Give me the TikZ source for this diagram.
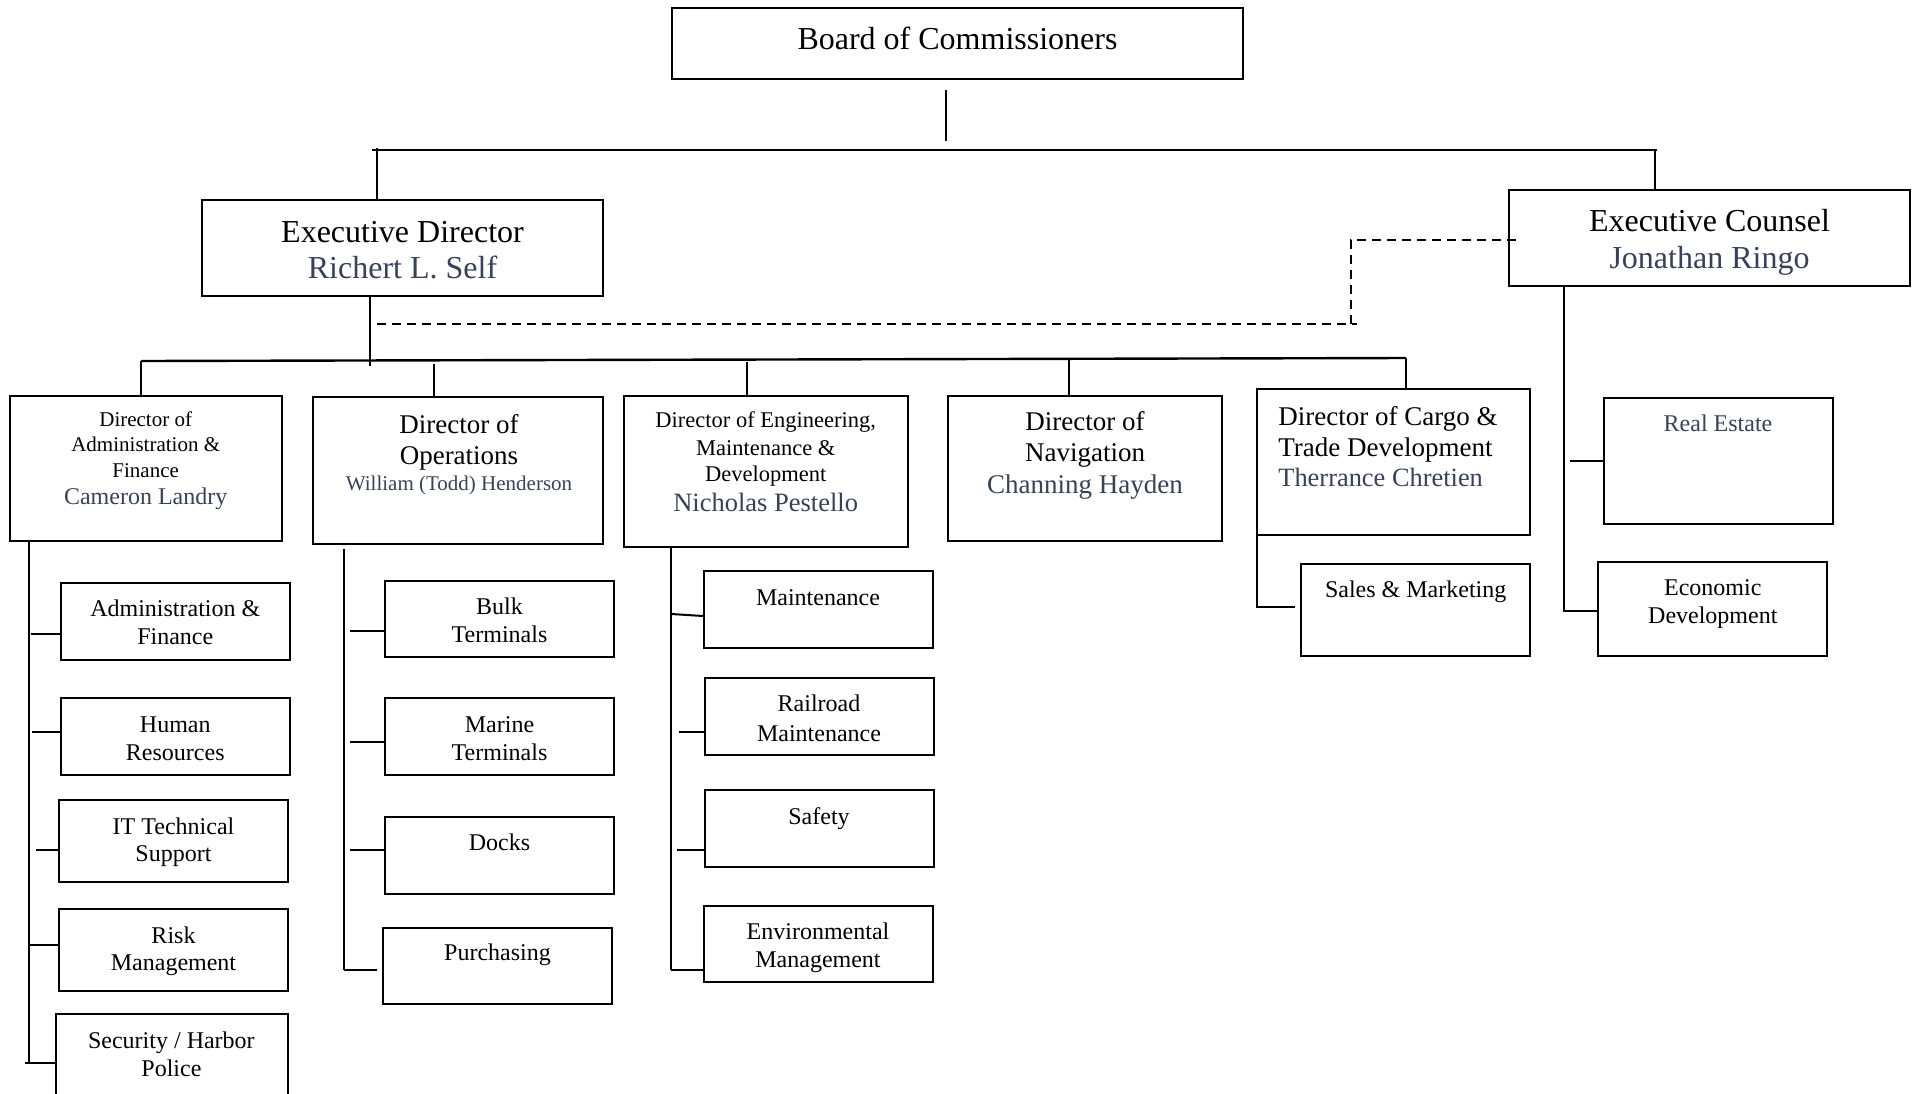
\documentclass[tikz,border=0pt]{standalone}
\usepackage{fontspec}
\usetikzlibrary{calc}
\setmainfont{Liberation Serif}
\definecolor{namec}{RGB}{55,65,88}
\newcommand\fsz[1]{\fontsize{#1}{#1}\selectfont}
\newcommand\bx[5]{\node[boxs, minimum width={(#4-#2)*0.5pt}, minimum height={(#5-#3)*0.5pt}] (#1) at ({(#2+#4)/2},{(#3+#5)/2}) {};}
\begin{document}
\begin{tikzpicture}[x=0.5pt,y=-0.5pt,
  boxs/.style={draw, line width=1pt, inner sep=0pt, rectangle},
  txt/.style={inner sep=0pt, anchor=base},
  nm/.style={txt, text=namec},
  ln/.style={line width=1pt},
  dsh/.style={line width=1pt, dash pattern=on 4.5pt off 3pt}]
\useasboundingbox (0,0) rectangle (1917,1093);
% ---------- boxes
\bx{board}{672}{8}{1243}{79}
\bx{ed}{202}{200}{603}{296}
\bx{ec}{1509}{190}{1910}{286}
\bx{dadm}{9.5}{396}{282}{541}
\bx{dops}{313}{397}{603}{544}
\bx{deng}{623.5}{396}{908}{547}
\bx{dnav}{948}{395.5}{1221.5}{541}
\bx{dcargo}{1256.5}{389}{1529.5}{535}
\bx{a1}{60.5}{583}{290}{659.5}
\bx{a2}{60.5}{698}{290}{774.5}
\bx{a3}{59}{800}{288}{882}
\bx{a4}{59}{908.5}{288}{991}
\bx{a5}{55.5}{1014}{288}{1112}
\bx{o1}{385}{580.5}{614}{657}
\bx{o2}{385}{698}{614}{775}
\bx{o3}{385}{817}{614}{894}
\bx{o4}{383}{928}{612}{1004}
\bx{e1}{704}{571}{933}{648}
\bx{e2}{705}{678}{934}{755}
\bx{e3}{705}{790}{934}{867}
\bx{e4}{704}{906}{933}{982}
\bx{sm}{1301}{564}{1530}{656}
\bx{re}{1604}{398}{1833}{524}
\bx{edv}{1598}{562}{1827}{656}
% ---------- texts
\node[txt, font=\fsz{16}] (board-t) at (957.5,49.5) {Board of Commissioners};
\node[txt, font=\fsz{16}] (ed-t1) at (402.5,242.3) {Executive Director};
\node[nm, font=\fsz{16}] (ed-t2) at (402.5,278.6) {Richert L. Self};
\node[txt, font=\fsz{16}] (ec-t1) at (1709.5,231.5) {Executive Counsel};
\node[nm, font=\fsz{16}] (ec-t2) at (1709.5,268.5) {Jonathan Ringo};
% director admin
\node[txt, font=\fsz{10.5}] (dadm-t1) at (145.7,426.8) {Director of};
\node[txt, font=\fsz{10.5}] (dadm-t2) at (145.7,451.4) {Administration \&};
\node[txt, font=\fsz{10.5}] (dadm-t3) at (145.7,477.3) {Finance};
\node[nm, font=\fsz{12}] (dadm-t4) at (145.7,504) {Cameron Landry};
% director operations
\node[txt, font=\fsz{13.5}] (dops-t1) at (459,433.2) {Director of};
\node[txt, font=\fsz{13.5}] (dops-t2) at (459,464) {Operations};
\node[nm, font=\fsz{10.5}] (dops-t3) at (459,490.5) {William (Todd) Henderson};
% director engineering
\node[txt, font=\fsz{11.25}] (deng-t1) at (765.7,427.7) {Director of Engineering,};
\node[txt, font=\fsz{11.25}] (deng-t2) at (765.7,455) {Maintenance \&};
\node[txt, font=\fsz{11.25}] (deng-t3) at (765.7,481.4) {Development};
\node[nm, font=\fsz{13.25}] (deng-t4) at (765.7,511) {Nicholas Pestello};
% director navigation
\node[txt, font=\fsz{13.5}] (dnav-t1) at (1085,430.9) {Director of};
\node[txt, font=\fsz{13.5}] (dnav-t2) at (1085,461.8) {Navigation};
\node[nm, font=\fsz{13.5}] (dnav-t3) at (1085,493.6) {Channing Hayden};
% director cargo
\node[txt, anchor=base west, font=\fsz{13.5}] (dcargo-t1) at (1278,425) {Director of Cargo \&};
\node[txt, anchor=base west, font=\fsz{13.5}] (dcargo-t2) at (1278,456) {Trade Development};
\node[nm, anchor=base west, font=\fsz{13.2}] (dcargo-t3) at (1278,486.7) {Therrance Chretien};
% admin children
\node[txt, font=\fsz{12}] (a1-t1) at (175.3,616.4) {Administration \&};
\node[txt, font=\fsz{12}] (a1-t2) at (175.3,644.5) {Finance};
\node[txt, font=\fsz{12}] (a2-t1) at (175.3,732.3) {Human};
\node[txt, font=\fsz{12}] (a2-t2) at (175.3,760.5) {Resources};
\node[txt, font=\fsz{12}] (a3-t1) at (173.5,834.5) {IT Technical};
\node[txt, font=\fsz{12}] (a3-t2) at (173.5,861.8) {Support};
\node[txt, font=\fsz{12}] (a4-t1) at (173.5,943.6) {Risk};
\node[txt, font=\fsz{12}] (a4-t2) at (173.5,970.9) {Management};
\node[txt, font=\fsz{12}] (a5-t1) at (171.4,1048) {Security / Harbor};
\node[txt, font=\fsz{12}] (a5-t2) at (171.4,1076.4) {Police};
% ops children
\node[txt, font=\fsz{12}] (o1-t1) at (499.5,614) {Bulk};
\node[txt, font=\fsz{12}] (o1-t2) at (499.5,642.3) {Terminals};
\node[txt, font=\fsz{12}] (o2-t1) at (499.5,732.3) {Marine};
\node[txt, font=\fsz{12}] (o2-t2) at (499.5,760.5) {Terminals};
\node[txt, font=\fsz{12}] (o3-t1) at (499.5,850.5) {Docks};
\node[txt, font=\fsz{12}] (o4-t1) at (497.5,960.5) {Purchasing};
% eng children
\node[txt, font=\fsz{12}] (e1-t1) at (818,605.9) {Maintenance};
\node[txt, font=\fsz{12}] (e2-t1) at (819,711.8) {Railroad};
\node[txt, font=\fsz{12}] (e2-t2) at (819,741.4) {Maintenance};
\node[txt, font=\fsz{12}] (e3-t1) at (819,824) {Safety};
\node[txt, font=\fsz{12}] (e4-t1) at (818,939) {Environmental};
\node[txt, font=\fsz{12}] (e4-t2) at (818,967.3) {Management};
% cargo / counsel children
\node[txt, font=\fsz{12}] (sm-t1) at (1415.7,597.3) {Sales \& Marketing};
\node[nm, font=\fsz{12}] (re-t1) at (1718,431) {Real Estate};
\node[txt, font=\fsz{12}] (edv-t1) at (1712.8,595) {Economic};
\node[txt, font=\fsz{12}] (edv-t2) at (1712.8,623.3) {Development};
% ---------- connectors
\draw[ln] (board.south -| 946,0) ++(0,10) -- (946,141);
\draw[ln, line width=1.3pt] (372,150) -- (1657,150);
\draw[ln] (376.6,148) -- (ed.north -| 376.6,0);
\draw[ln] (1655,150) -- (ec.north -| 1655,0);
\draw[ln] (ed.south -| 370,0) -- (370,366);
\draw[ln, line width=1.2pt] (141,361) -- (1406,358);
\draw[ln] (141,361) -- (dadm.north -| 141,0);
\draw[ln] (433.6,364) -- (dops.north -| 433.6,0);
\draw[ln] (747,362) -- (deng.north -| 747,0);
\draw[ln] (1069,358) -- (dnav.north -| 1069,0);
\draw[ln] (1406,358) -- (dcargo.north -| 1406,0);
\coordinate (dashin) at ($(ec.west |- 0,240)+(8,0)$);
\draw[dsh] (377,324) -- (1357,324);
\draw[dsh] (1351,324) -- (1351,240) -- (dashin);
% admin column
\draw[ln] (dadm.south -| 28.6,0) -- (28.6,1063);
\draw[ln] (31,633.6) -- (a1.west |- 0,633.6);
\draw[ln] (32,732) -- (a2.west |- 0,732);
\draw[ln] (36,850) -- (a3.west |- 0,850);
\draw[ln] (29,945) -- (a4.west |- 0,945);
\draw[ln] (24.5,1062.7) -- (a5.west |- 0,1062.7);
% ops column
\draw[ln] (dops.south -| 344,0) ++(0,4) -- (344,969.5);
\draw[ln] (350,631) -- (o1.west |- 0,631);
\draw[ln] (350,742) -- (o2.west |- 0,742);
\draw[ln] (350,850) -- (o3.west |- 0,850);
\draw[ln] (344,969.5) -- (377,969.5);
% eng column
\draw[ln] (deng.south -| 671.4,0) -- (671.4,969.5);
\draw[ln] (671.4,614) -- (e1.west |- 0,616);
\draw[ln] (679,732) -- (e2.west |- 0,732);
\draw[ln] (677,850) -- (e3.west |- 0,850);
\draw[ln] (671.4,969.5) -- (e4.west |- 0,969.5);
% cargo
\draw[ln] (dcargo.south -| 1256.5,0) -- (1256.5,607) -- (1295,607);
% counsel
\draw[ln] (ec.south -| 1563.8,0) -- (1563.8,610.7) -- (edv.west |- 0,610.7);
\draw[ln] (1570,461.3) -- (re.west |- 0,461.3);
\end{tikzpicture}
\end{document}
